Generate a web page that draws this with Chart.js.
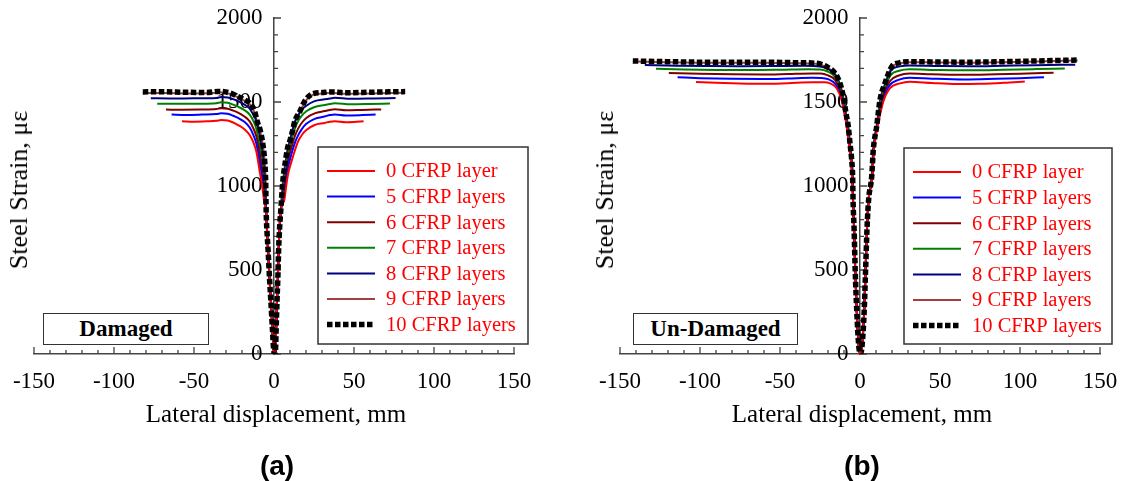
<!DOCTYPE html>
<html>
<head>
<meta charset="utf-8">
<script src="https://cdn.jsdelivr.net/npm/chart.js@4.4.1/dist/chart.umd.min.js"></script>
<style>
  body { margin: 0; background: #fff; }
  #page { position: relative; width: 1125px; height: 481px; overflow: hidden; font-family: 'Liberation Serif', serif; }
  .panel { position: absolute; top: 0; height: 481px; }
  .txt { position: absolute; white-space: nowrap; transform: translate(-50%, -50%); }
  .ytitle { font-size: 26px; transform: translate(-50%, -50%) rotate(-90deg); }
  .xtitle { font-size: 25px; }
  .cap { font-family: 'Liberation Sans', Arial, sans-serif; font-weight: bold; font-size: 28px; }
  .tag { position: absolute; border: 1.5px solid #333; background: #fff; font-weight: bold; font-size: 23px;
         text-align: center; line-height: 30px; height: 30px; }
</style>
</head>
<body>
<div id="page">
  <div class="panel" style="left:0;width:562px"><canvas id="chartA"></canvas></div>
  <div class="panel" style="left:562px;width:563px"><canvas id="chartB"></canvas></div>

  <div class="txt ytitle" style="left:19px;top:190px">Steel Strain, με</div>
  <div class="txt ytitle" style="left:605px;top:190px">Steel Strain, με</div>
  <div class="txt xtitle" style="left:276px;top:414px">Lateral displacement, mm</div>
  <div class="txt xtitle" style="left:862px;top:414px">Lateral displacement, mm</div>
  <div class="txt cap" style="left:277px;top:466px">(a)</div>
  <div class="txt cap" style="left:862px;top:466px">(b)</div>
  <div class="tag" style="left:43px;top:313px;width:164px">Damaged</div>
  <div class="tag" style="left:633px;top:313px;width:163px">Un-Damaged</div>
</div>

<script>
// axis ticks
const xTickValues = [-150, -100, -50, 0, 50, 100, 150];
const yTickValues = [0, 500, 1000, 1500, 2000];

// series
const layerLabels = ['0 CFRP layer', '5 CFRP layers', '6 CFRP layers', '7 CFRP layers',
                     '8 CFRP layers', '9 CFRP layers', '10 CFRP layers'];
const layerColors = ['#ff0000', '#0000ff', '#800000', '#008000', '#000080', '#a04040', '#000000'];

// (a) Damaged - lateral displacement (mm), steel strain
const dmgStem = [[-4.9,850],[-4.2,700],[-3.7,619],[-2.8,450],[-2,321],[-1,150],[-0.2,24],[0.3,0],
                 [0.9,20],[1.5,200],[1.9,321],[2.4,450],[2.9,619],[3.5,750],[4.2,850]];
const dmg0 = [[-57.5,1385],[-50,1383],[-42,1385],[-36,1388],[-33,1393],[-29,1390],[-25.5,1378],[-22.5,1363],
              [-18.5,1338],[-15.2,1304],[-13,1262],[-11,1204],[-8.9,1085],[-7.5,1006],[-6,900],
              [6.5,920],[7.7,1006],[9,1080],[10.9,1145],[13,1210],[15,1264],[17.5,1305],[20.2,1333],
              [25.4,1363],[31.7,1375],[35,1383],[38,1386],[45,1380],[50,1381],[56,1385]];
const dmg5 = [[-64,1425],[-55,1423],[-45,1425],[-36,1428],[-33,1433],[-29,1430],[-25.5,1418],[-22.5,1405],
              [-18.5,1382],[-15.2,1348],[-13,1306],[-11,1252],[-8.9,1140],[-7.3,1040],[-5.8,920],
              [6.2,930],[7.5,1040],[9,1120],[10.9,1190],[13,1255],[15,1300],[17.5,1340],[20.2,1370],
              [25.4,1400],[31.7,1414],[35,1422],[38,1426],[45,1420],[55,1422],[63.5,1425]];
const dmg6 = [[-67.5,1455],[-58,1454],[-46,1455],[-36,1458],[-33,1463],[-29,1460],[-25.5,1449],[-22.5,1437],
              [-18.5,1414],[-15.2,1385],[-13,1345],[-11,1295],[-8.9,1190],[-7.1,1070],[-5.6,930],
              [6,940],[7.3,1060],[9,1160],[10.9,1230],[13,1295],[15,1340],[17.5,1378],[20.2,1405],
              [25.4,1432],[31.7,1446],[35,1453],[38,1457],[45,1451],[55,1453],[67,1456]];
const dmg7 = [[-73,1490],[-62,1489],[-48,1490],[-36,1493],[-33,1498],[-29,1495],[-25.5,1484],[-22.5,1472],
              [-18.5,1452],[-15.2,1425],[-13,1390],[-11,1340],[-8.9,1240],[-7,1110],[-5.5,940],
              [5.8,950],[7.1,1080],[8.8,1190],[10.9,1275],[13,1340],[15,1385],[17.5,1420],[20.2,1445],
              [25.4,1470],[31.7,1482],[35,1488],[38,1492],[48,1486],[60,1488],[72.5,1491]];
const dmg8 = [[-77,1522],[-65,1521],[-50,1522],[-36,1524],[-33,1530],[-29,1527],[-25.5,1517],[-22.5,1505],
              [-18.5,1484],[-15.2,1460],[-13,1425],[-11,1385],[-8.9,1295],[-6.9,1170],[-5.4,980],
              [5.6,990],[7,1110],[8.7,1215],[10.9,1310],[13,1380],[15,1420],[17.5,1455],[20.2,1478],
              [25.4,1505],[31.7,1516],[35,1521],[38,1525],[48,1519],[62,1521],[76,1524]];
const dmg9 = [[-82,1553],[-68,1553],[-52,1551],[-38,1553],[-34,1558],[-28,1549],[-22,1526],[-18.3,1507],
              [-15.2,1488],[-12.1,1436],[-10.2,1368],[-8.9,1335],[-6.9,1238],[-5.8,1140],[-5.2,1020],
              [5.6,1030],[7,1130],[8.6,1225],[9.8,1258],[11.7,1326],[12.9,1376],[16.1,1436],[19.2,1498],
              [24.4,1543],[30,1550],[35,1555],[45,1549],[60,1551],[81,1555]];
const dmg10 = [[-82,1560],[-70,1561],[-55,1558],[-42,1557],[-35,1563],[-28,1555],[-22,1530],[-18.3,1512],
               [-15.2,1494],[-12.1,1442],[-10.2,1375],[-8.9,1343],[-6.9,1244],[-5.8,1145],[-5.2,1026],
               [5.6,1036],[7,1137],[8.6,1232],[9.8,1264],[11.7,1333],[12.9,1383],[16.1,1442],[19.2,1505],
               [24.4,1550],[30,1556],[35,1560],[45,1555],[60,1558],[70,1560],[82,1562]];

// (b) Un-Damaged
const undStem = [[-4.3,900],[-3.7,750],[-3,500],[-2,250],[-0.8,50],[0.3,0],[1.3,50],[2.6,250],
                 [3.5,500],[4.4,750],[5.4,920]];
const und0 = [[-102.5,1619],[-90,1614],[-75,1610],[-60,1608],[-45,1612],[-30,1617],[-22,1617],[-18.75,1611],
              [-14.6,1582],[-11.5,1512],[-9.8,1433],[-8.3,1353],[-7,1254],[-5.8,1155],[-5,1060],
              [7.8,1060],[8.6,1200],[10,1300],[12,1400],[14.5,1500],[18.75,1582],[25,1611],[31,1621],
              [45,1613],[60,1607],[75,1608],[90,1614],[103,1622]];
const und5 = [[-114,1647],[-100,1642],[-80,1638],[-60,1637],[-45,1640],[-30,1644],[-24,1643],[-20,1636],
              [-15.2,1605],[-12,1540],[-10,1460],[-8.5,1375],[-7,1270],[-5.7,1160],[-4.9,1058],
              [7.7,1058],[8.5,1205],[10,1320],[12.2,1430],[14.8,1525],[18.6,1600],[24,1632],[31,1645],
              [45,1639],[65,1634],[85,1638],[100,1642],[115,1648]];
const und6 = [[-119.5,1673],[-100,1668],[-80,1665],[-60,1664],[-45,1667],[-30,1670],[-24.5,1669],[-20.5,1660],
              [-15.4,1628],[-12.2,1560],[-10.2,1480],[-8.6,1395],[-7.1,1290],[-5.6,1170],[-4.8,1057],
              [7.6,1057],[8.5,1210],[10.2,1335],[12.3,1450],[15,1550],[18.8,1625],[24.2,1658],[31,1670],
              [45,1665],[65,1662],[85,1665],[100,1668],[121,1674]];
const und7 = [[-127.5,1698],[-110,1694],[-90,1691],[-70,1690],[-50,1692],[-32,1695],[-25,1693],[-20.6,1683],
              [-15.5,1648],[-12.3,1580],[-10.3,1500],[-8.7,1410],[-7.2,1320],[-6,1215],[-4.7,1056],
              [7.5,1056],[8.4,1212],[10.3,1345],[12.4,1480],[15.2,1575],[19.2,1660],[24.5,1686],[31,1695],
              [50,1690],[70,1689],[90,1692],[110,1696],[128,1700]];
const und8 = [[-134.5,1720],[-115,1716],[-95,1714],[-75,1713],[-55,1714],[-35,1716],[-25,1712],[-20.7,1700],
              [-15.5,1662],[-12.4,1598],[-10.4,1518],[-8.7,1422],[-7.3,1340],[-6.2,1240],[-5.2,1145],[-4.6,1055],
              [7.4,1055],[8.3,1214],[10.35,1349],[12.5,1497],[15.4,1595],[19.5,1690],[24.8,1712],[31,1718],
              [50,1714],[70,1713],[90,1716],[110,1719],[134.5,1722]];
const und9 = [[-140,1741],[-120,1737],[-100,1734],[-80,1733],[-60,1734],[-40,1731],[-27,1727],[-20.8,1706],
              [-15.6,1667],[-12.5,1607],[-10.4,1528],[-8.75,1430],[-7.3,1350],[-6.25,1250],[-5.2,1152],[-4.6,1052],
              [7.3,1052],[8.3,1210],[10.4,1350],[12.5,1508],[15.6,1607],[19.8,1706],[25,1730],[30.2,1737],
              [50,1735],[70,1734],[90,1737],[110,1741],[136,1747]];
const und10 = [[-142,1744],[-120,1740],[-100,1737],[-80,1736],[-60,1737],[-40,1734],[-27,1730],[-20.8,1710],
               [-15.6,1671],[-12.5,1611],[-10.4,1532],[-8.75,1433],[-7.3,1353],[-6.25,1254],[-5.2,1155],[-4.6,1055],
               [7.3,1055],[8.3,1214],[10.4,1353],[12.5,1512],[15.6,1611],[19.8,1710],[25,1734],[30.2,1740],
               [50,1738],[70,1737],[90,1740],[110,1744],[136,1750]];

const serif = 'Liberation Serif';

// join left branch, shared stem near zero, right branch
function withStem(pts, stem) {
    const all = pts.filter(p => p[0] < 0).concat(stem, pts.filter(p => p[0] > 0));
    return all.map(p => ({ x: p[0], y: p[1] }));
}

function makeDatasets(series, stem) {
    return series.map((pts, i) => {
        const last = i === series.length - 1;
        return {
            label: layerLabels[i],
            data: withStem(pts, stem),
            borderColor: layerColors[i],
            backgroundColor: layerColors[i],
            borderWidth: last ? 5.5 : 2,
            borderDash: last ? [5.5, 2.5] : [],
            borderCapStyle: 'butt',
            pointRadius: 0,
            cubicInterpolationMode: 'monotone',
            order: last ? 0 : 1
        };
    });
}

// small inward ticks, major every 50 mm / 500 strain
const innerTicks = {
    id: 'innerTicks',
    beforeDatasetsDraw(chart) {
        const { ctx, scales: { x, y } } = chart;
        const x0 = x.getPixelForValue(0), y0 = y.getPixelForValue(0);
        ctx.save();
        ctx.strokeStyle = '#444';
        ctx.lineWidth = 1.3;
        ctx.beginPath();
        for (let v = -150; v <= 150; v += 10) {
            const px = x.getPixelForValue(v);
            const len = v % 50 === 0 ? 7 : 4;
            ctx.moveTo(px, y0);
            ctx.lineTo(px, y0 - len);
        }
        for (let v = 0; v <= 2000; v += 100) {
            const py = y.getPixelForValue(v);
            const len = v % 500 === 0 ? 7 : 4;
            ctx.moveTo(x0, py);
            ctx.lineTo(x0 + len, py);
        }
        ctx.stroke();
        ctx.restore();
    }
};

// boxed legend with red labels
const boxLegend = {
    id: 'boxLegend',
    afterDatasetsDraw(chart, args, opts) {
        const { ctx } = chart;
        ctx.save();
        ctx.fillStyle = '#fff';
        ctx.fillRect(opts.left, opts.top, opts.width, opts.height);
        ctx.strokeStyle = '#333';
        ctx.lineWidth = 1.5;
        ctx.strokeRect(opts.left, opts.top, opts.width, opts.height);
        ctx.font = '20.5px "' + serif + '"';
        ctx.textBaseline = 'middle';
        chart.data.datasets.forEach((ds, i) => {
            const yy = opts.top + 24 + i * 25.6;
            ctx.beginPath();
            ctx.strokeStyle = ds.borderColor;
            ctx.lineWidth = ds.borderWidth;
            ctx.setLineDash(ds.borderDash);
            ctx.moveTo(opts.left + 9, yy);
            ctx.lineTo(opts.left + 57, yy);
            ctx.stroke();
            ctx.setLineDash([]);
            ctx.fillStyle = '#ff0000';
            ctx.fillText(ds.label, opts.left + 68, yy + 1);
        });
        ctx.restore();
    }
};

function makeChart(id, series, stem, pad, legendBox) {
    const ctx = document.getElementById(id).getContext('2d');
    return new Chart(ctx, {
        type: 'line',
        data: { datasets: makeDatasets(series, stem) },
        plugins: [innerTicks, boxLegend],
        options: {
            responsive: true,
            maintainAspectRatio: false,
            animation: false,
            layout: { padding: pad },
            plugins: {
                legend: { display: false },
                tooltip: { enabled: false },
                boxLegend: legendBox
            },
            scales: {
                x: {
                    type: 'linear',
                    min: -150,
                    max: 150,
                    position: { y: 0 },
                    afterBuildTicks: s => { s.ticks = xTickValues.map(v => ({ value: v })); },
                    ticks: { color: '#000', font: { family: serif, size: 23 }, padding: 0, maxRotation: 0,
                             autoSkip: false, callback: v => String(v) },
                    // tick marks are drawn by innerTicks; tickLength only pushes the labels down
                    grid: { display: false, drawTicks: true, tickLength: 14 },
                    border: { display: true, color: '#444', width: 1.5 }
                },
                y: {
                    type: 'linear',
                    min: 0,
                    max: 2000,
                    position: { x: 0 },
                    afterBuildTicks: s => { s.ticks = yTickValues.map(v => ({ value: v })); },
                    // centred axis ignores padding, so keep a gap with a trailing space
                    ticks: { color: '#000', font: { family: serif, size: 23 }, padding: 0,
                             callback: v => v + '\u2002' },
                    grid: { display: false, drawTicks: false },
                    border: { display: true, color: '#444', width: 1.5 }
                }
            }
        }
    });
}

makeChart('chartA', [dmg0, dmg5, dmg6, dmg7, dmg8, dmg9, dmg10], dmgStem,
    { left: 34, right: 48, top: 18, bottom: 127 },
    { left: 318, top: 147, width: 210, height: 197 });
makeChart('chartB', [und0, und5, und6, und7, und8, und9, und10], undStem,
    { left: 58, right: 25, top: 18, bottom: 127 },
    { left: 342, top: 148, width: 208, height: 196 });
</script>
</body>
</html>
